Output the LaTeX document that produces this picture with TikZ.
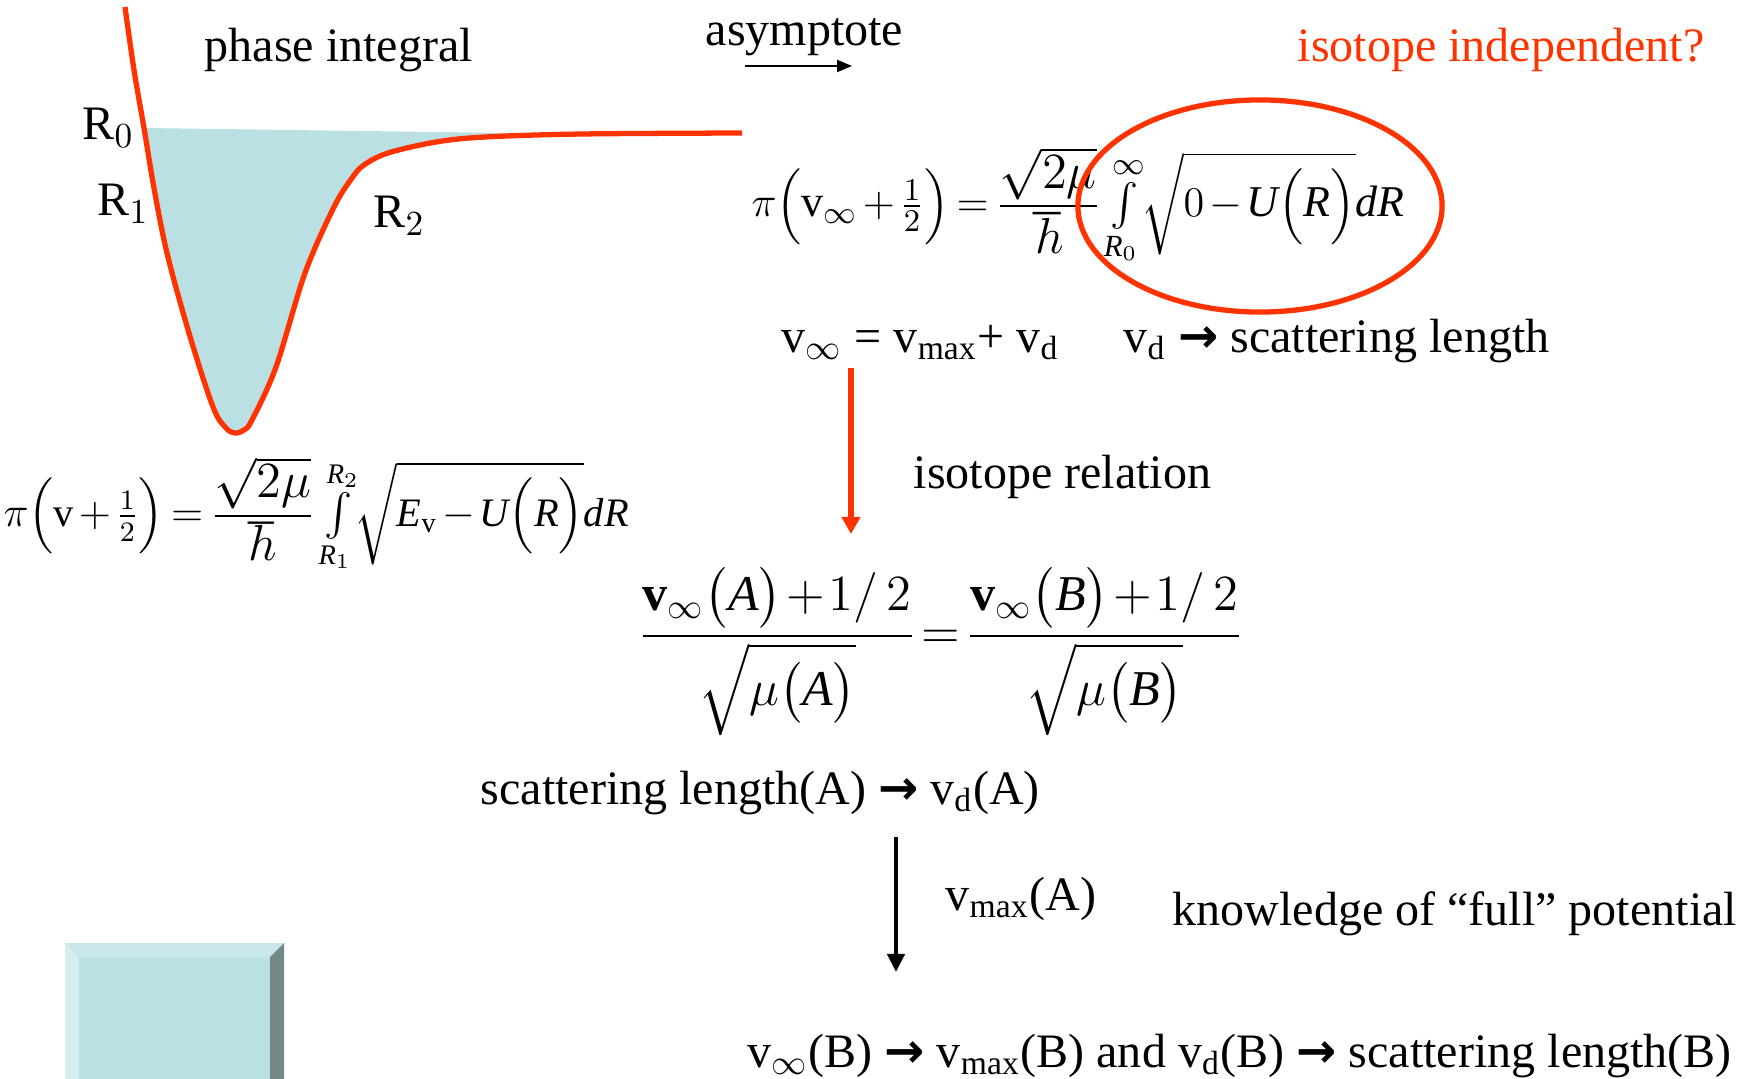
\documentclass[tikz,border=0pt]{standalone}
\usepackage{amsmath}
\usepackage{fontspec}
\setmainfont{Liberation Serif}
\newfontfamily\arrowfont{DejaVu Sans}
\usetikzlibrary{arrows.meta, positioning, calc}

\definecolor{hot}{RGB}{255,51,0}
\definecolor{well}{RGB}{187,224,227}
\definecolor{bevtop}{RGB}{201,230,233}
\definecolor{bevleft}{RGB}{214,236,238}
\definecolor{bevright}{RGB}{114,136,137}

\newcommand\lblfont{\fontsize{13.66pt}{16pt}\selectfont}
\newcommand\eqfont{\fontsize{12.5pt}{15pt}\selectfont\thickmuskip=3mu\medmuskip=2mu}
\newcommand\boundfont{\fontsize{11.5pt}{14pt}\selectfont\thickmuskip=3mu\medmuskip=2mu}
\newcommand\ratiofont{\fontsize{14.25pt}{17pt}\selectfont\thickmuskip=2mu\medmuskip=1.5mu}
\newcommand\thickto{{\arrowfont\bfseries →}}
\newcommand\upsz[2]{\mbox{\fontsize{#1}{#1}\selectfont$#2$}}
\newcommand\mi[1]{\textit{#1}}

\begin{document}
\begin{tikzpicture}[x=0.01cm, y=-0.01cm,
    lbl/.style={anchor=base west, inner sep=0pt, font=\lblfont},
    eqn/.style={anchor=west, inner sep=0pt, font=\eqfont},
    redline/.style={draw=hot, line width=1.5pt}]
    \useasboundingbox (0,0) rectangle (1751,1079);

    % potential well
    \fill[well] (144,128) -- plot[smooth, tension=0.55] coordinates {(144,128) (154,188) (167,253)
        (189,333) (213,407) (226,428) (235,433) (244,430) (252,420) (276,367) (305,273) (334,207)
        (352,178) (364,165) (388,153) (436,142) (485,137) (582,134)} -- cycle;
    \draw[redline] plot[smooth, tension=0.55] coordinates {(125,7) (134,70) (144,128) (154,188)
        (167,253) (189,333) (213,407) (226,428) (235,433) (244,430) (252,420) (276,367) (305,273)
        (334,207) (352,178) (364,165) (388,153) (436,142) (485,137) (582,134) (742,133)};

    \node[lbl] (r0) at (82,140) {R$_0$};
    \node[lbl] (r1) at (97,216) {R$_1$};
    \node[lbl] (r2) at (373,228) {R$_2$};
    \node[lbl] (phase) at (204,62) {phase integral};

    \node[eqn, font=\boundfont] (bound) at (3,515) {$\pi\Bigl(\mathrm{v}+\tfrac{1}{2}\Bigr)=\dfrac{\upsz{14.5pt}{\sqrt{2\mu}}}{\upsz{14.5pt}{\hbar}}
        \int\limits_{\mi{R}_1}^{\mi{R}_2}\!\sqrt{\mi{E}_{\mathrm{v}}-\mi{U}\Bigl(\mi{R}\Bigr)}\mi{dR}$};

    % asymptote
    \node[lbl] (asym) at (705,46) {asymptote};
    \coordinate (aleft) at (745,66);
    \coordinate (aright) at (852,66);
    \draw[line width=0.6pt, -{Triangle[length=0.15cm, width=0.12cm]}] (aleft) -- (aright);
    \node[lbl, text=hot] (indep) at (1297,62) {isotope independent?};

    \node[eqn] (limit) at (751,206) {$\pi\Bigl(\mathrm{v}_\infty+\tfrac{1}{2}\Bigr)=\dfrac{\upsz{15.5pt}{\sqrt{2\mu}}}{\upsz{15.5pt}{\hbar}}
        \int\limits_{\mi{R}_0}^{\infty}\!\sqrt{0-\mi{U}\Bigl(\mi{R}\Bigr)}\mi{dR}$};
    \draw[redline] (1260,206) ellipse [x radius=1.82cm, y radius=1.06cm];

    \node[lbl] (vinf) at (781,352) {v$_\infty$ = v$_{\mathrm{max}}$+ v$_{\mathrm{d}}$};
    \node[lbl] (vd) at (1123,352) {v$_{\mathrm{d}}$ \thickto{} scattering length};

    % isotope relation
    \coordinate (rtop) at (851,368);
    \coordinate (rbot) at (851,534);
    \draw[draw=hot, line width=1.7pt, -{Triangle[length=0.17cm, width=0.18cm]}] (rtop) -- (rbot);
    \node[lbl] (isorel) at (913,488) {isotope relation};

    \node[eqn, font=\ratiofont] (ratio) at (638,652) {$\dfrac{\mathbf{v}_\infty\bigl(\mi{A}\bigr)+1/\,2}{\sqrt{\mu\bigl(\mi{A}\bigr)}}=
        \dfrac{\mathbf{v}_\infty\bigl(\mi{B}\bigr)+1/\,2}{\sqrt{\mu\bigl(\mi{B}\bigr)}}$};

    \node[lbl] (scatA) at (480,804) {scattering length(A) \thickto{} v$_{\mathrm{d}}$(A)};

    \coordinate (btop) at (896,837);
    \coordinate (bbot) at (896,972);
    \draw[line width=1.2pt, -{Triangle[length=0.18cm, width=0.17cm]}] (btop) -- (bbot);
    \node[lbl] (vmaxA) at (945,910) {v$_{\mathrm{max}}$(A)};
    \node[lbl] (full) at (1172,925) {knowledge of “full” potential};

    \node[lbl] (result) at (747,1067) {v$_\infty$(B) \thickto{} v$_{\mathrm{max}}$(B) and v$_{\mathrm{d}}$(B) \thickto{} scattering length(B)};

    % bevelled box
    \fill[well] (65,943) rectangle (284,1079);
    \fill[bevtop] (65,943) -- (284,943) -- (270,957) -- (79,957) -- cycle;
    \fill[bevleft] (65,943) -- (79,957) -- (79,1079) -- (65,1079) -- cycle;
    \fill[bevright] (284,943) -- (284,1079) -- (270,1079) -- (270,957) -- cycle;
\end{tikzpicture}
\end{document}
